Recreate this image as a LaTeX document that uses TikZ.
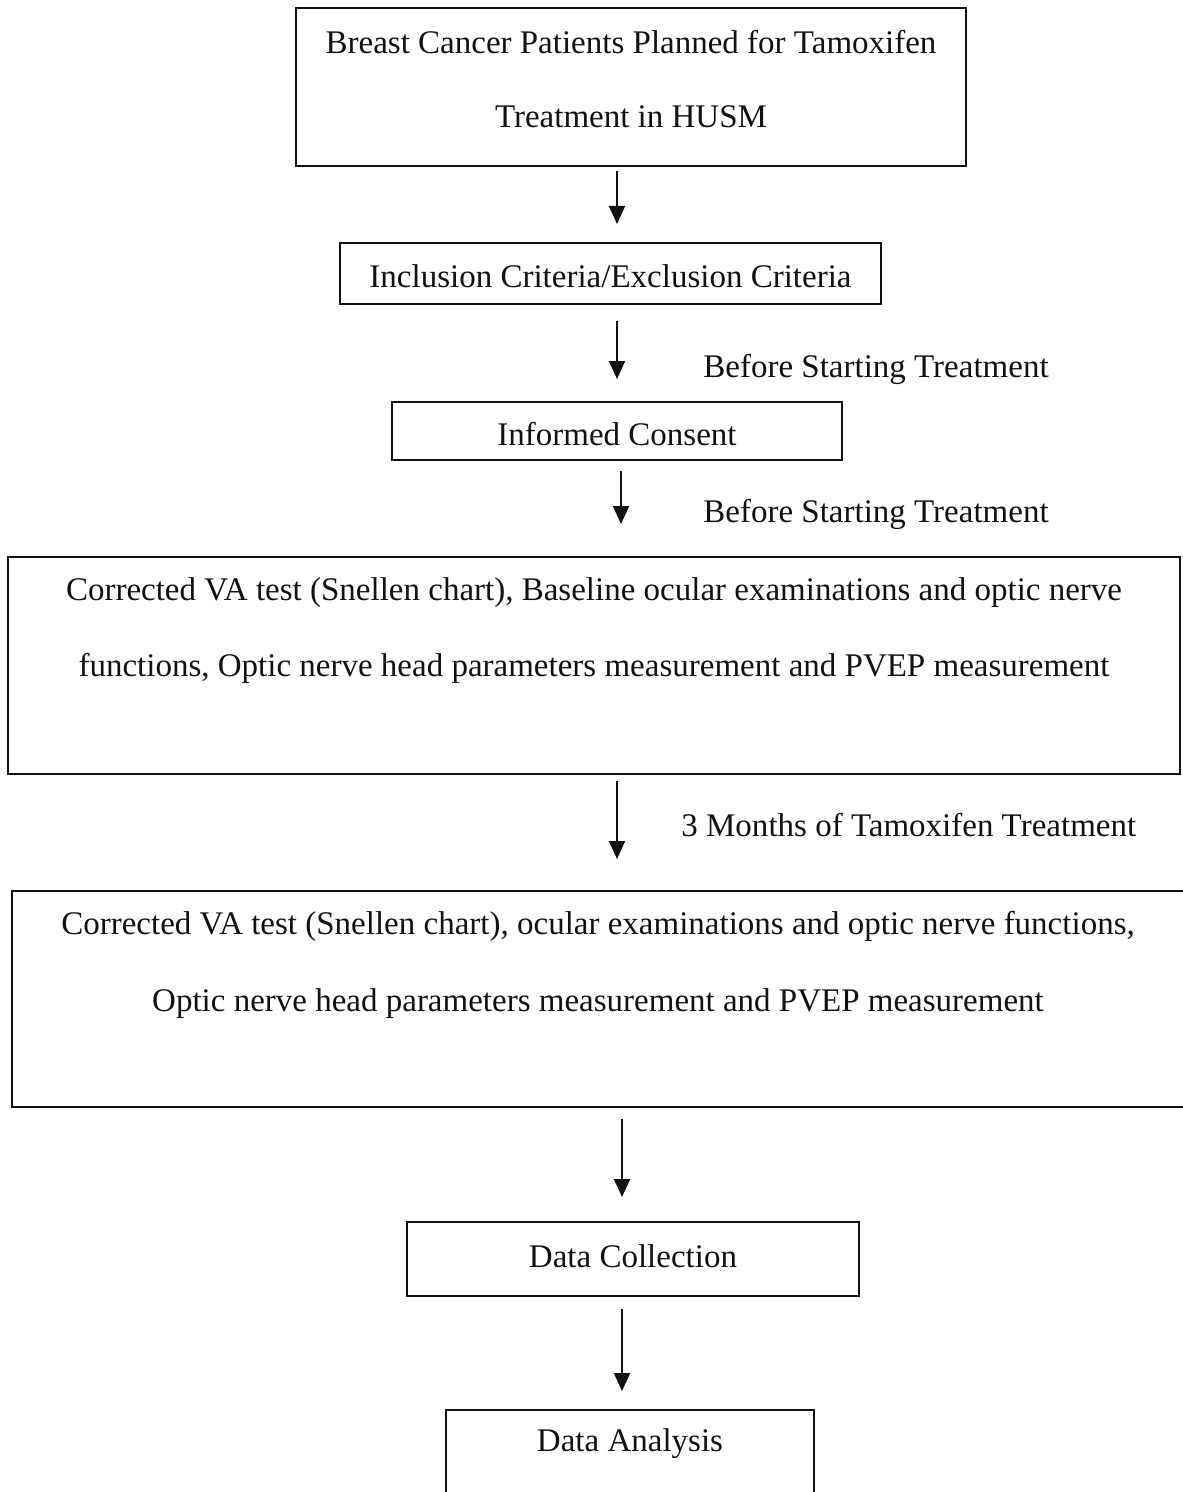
\documentclass[tikz,border=0pt]{standalone}
\usepackage{fontspec}
\setmainfont{Liberation Serif}
\usetikzlibrary{arrows.meta,positioning,calc}
\def\wBox{1.0pt}
\def\wFlow{1.0pt}
\definecolor{cInk}{HTML}{111111}
\tikzset{
  chart/.style={font=\fontsize{16.5pt}{37pt}\selectfont, every node/.style={align=center}},
  box/.style={draw=cInk, line width=\wBox, rectangle, inner sep=0pt},
  txt/.style={text=cInk, inner sep=0pt},
  lbl/.style={text=cInk, inner sep=0pt, anchor=west},
  flow/.style={draw=cInk, line width=\wFlow, -{Triangle[length=9pt, width=8pt]}},
}

\begin{document}
\begin{tikzpicture}[chart, x=0.5pt, y=-0.5pt]
% frame of the page, in pixels of the source (y grows downward)
\useasboundingbox (0,0) rectangle (1182,1492);
% boxes
\node[box, minimum width=335pt, minimum height=79pt]  (pat)  at (631,87)    {};
\node[box, minimum width=270.5pt, minimum height=30.5pt] (crit) at (610.5,273.5) {};
\node[box, minimum width=225pt, minimum height=29pt]  (cons) at (617,431)   {};
\node[box, minimum width=586pt, minimum height=108.5pt] (base) at (594,665.5) {};
\node[box, minimum width=594pt, minimum height=108pt] (foll) at (606,999)   {};
\node[box, minimum width=226pt, minimum height=37pt]  (coll) at (633,1259)  {};
\node[box, minimum width=184pt, minimum height=55pt]  (anal) at (630,1465)  {};
% texts
\node[txt] (patT)  at (631,79)    {Breast Cancer Patients Planned for Tamoxifen\\ Treatment in HUSM};
\node[txt] (critT) at (610.5,276) {Inclusion Criteria/Exclusion Criteria};
\node[txt] (consT) at (617,434)   {Informed Consent};
\node[txt, font=\fontsize{16.5pt}{38pt}\selectfont] (baseT) at (594,631)
  {Corrected VA test (Snellen chart), Baseline ocular examinations and optic nerve\\
   functions, Optic nerve head parameters measurement and PVEP measurement};
\node[txt, font=\fontsize{16.5pt}{38.5pt}\selectfont] (follT) at (598,964.5)
  {Corrected VA test (Snellen chart), ocular examinations and optic nerve functions,\\
   Optic nerve head parameters measurement and PVEP measurement};
\node[txt] (collT) at (633,1256)  {Data Collection};
\node[txt] (analT) at (630,1444)  {Data Analysis};
% arrow columns
\coordinate (c1) at (617,0);
\coordinate (c2) at (621,0);
\coordinate (c3) at (622,0);
\draw[flow, shorten <=2pt, shorten >=9pt]    (pat.south -| c1)  -- (crit.north -| c1);
\draw[flow, shorten <=8pt, shorten >=11pt]   (crit.south -| c1) -- (cons.north -| c1);
\draw[flow, shorten <=5pt, shorten >=16pt]   (cons.south -| c2) -- (base.north -| c2);
\draw[flow, shorten <=3pt, shorten >=15.5pt] (base.south -| c1) -- (foll.north -| c1);
\draw[flow, shorten <=5.5pt, shorten >=12pt] (foll.south -| c3) -- (coll.north -| c3);
\draw[flow, shorten <=6pt, shorten >=9pt]    (coll.south -| c3) -- (anal.north -| c3);
% step labels
\node[lbl] (when1) at (703,369) {Before Starting Treatment};
\node[lbl] (when2) at (703,514) {Before Starting Treatment};
\node[lbl] (when3) at (681,825) {3 Months of Tamoxifen Treatment};
\end{tikzpicture}
\end{document}
